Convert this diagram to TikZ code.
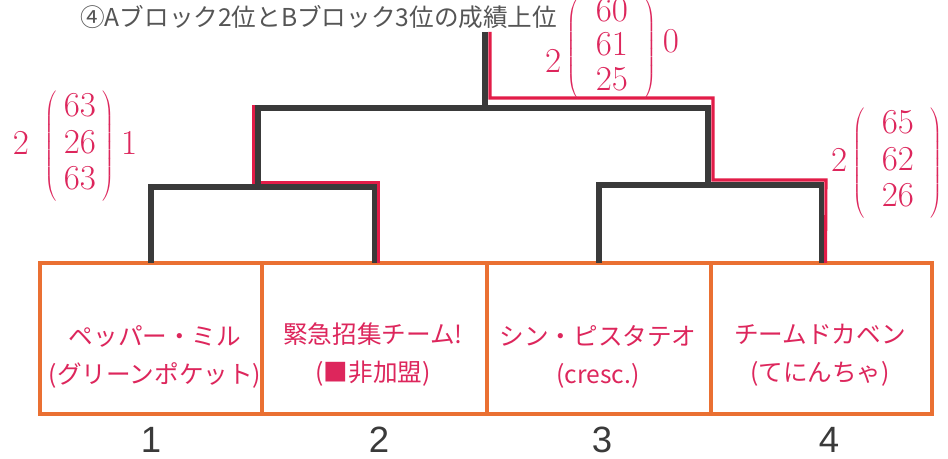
\documentclass[tikz,border=0pt]{standalone}
\usepackage{fontspec}
\newfontfamily\jpfont{Noto Sans CJK JP}
\newfontfamily\numfont{Liberation Sans}
\usetikzlibrary{positioning}
\definecolor{penred}{RGB}{221,38,92}
\definecolor{lineblack}{RGB}{58,58,58}
\definecolor{boxorange}{RGB}{234,112,50}
\definecolor{hilite}{RGB}{226,28,72}
\definecolor{titlegray}{RGB}{85,85,85}
\begin{document}
\begin{tikzpicture}[x=0.025cm,y=-0.025cm]
\tikzstyle{team node}=[rectangle,draw=boxorange,line width=2.8pt,minimum height=3.775cm,inner sep=0,outer sep=0]
\tikzstyle{name node}=[text=penred,font=\jpfont\fontsize{17.5}{27}\selectfont,align=center]
\tikzset{
	bracket/.style={draw=lineblack,line width=3.6pt},
	win path/.style={draw=hilite,line width=2.2pt},
	score node/.style={text=penred,font=\fontsize{24}{26}\selectfont,inner sep=0},
	seed node/.style={text=lineblack,font=\numfont\fontsize{26}{28}\selectfont,inner sep=0}
}
\useasboundingbox (0,0) rectangle (948,459);
\fill[white] (0,0) rectangle (948,459);

\node[anchor=west,text=titlegray,font=\jpfont\fontsize{17.5}{20}\selectfont,inner sep=0] (title) at (80,17) {④Aブロック2位とBブロック3位の成績上位};

\node[team node,minimum width=5.55cm] (t1) at (151,338.5) {};
\node[team node,minimum width=5.625cm] (t2) at (374.5,338.5) {};
\node[team node,minimum width=5.6cm] (t3) at (599,338.5) {};
\node[team node,minimum width=5.525cm] (t4) at (821.5,338.5) {};

\node[name node] (n1) at (155,357) {ペッパー・ミル\\(グリーンポケット)};
\node[name node] (n2) at (373,355) {緊急招集チーム!\\(■非加盟)};
\node[name node] (n3) at (598,357) {シン・ピスタテオ\\(cresc.)};
\node[name node] (n4) at (820,355) {チームドカベン\\(てにんちゃ)};

\node[seed node] (s1) at (151,440) {1};
\node[seed node] (s2) at (379,440) {2};
\node[seed node] (s3) at (602,440) {3};
\node[seed node] (s4) at (829,440) {4};

% junctions of the bracket
\coordinate (m1) at (258,187);
\coordinate (m2) at (708,185);
\coordinate (fin) at (485,108);
\coordinate (top) at (485,32);

% winners in red
\coordinate (r1) at (254,183);
\coordinate (r1top) at (254,105);
\coordinate (r0) at (490,32);
\coordinate (r2) at (713,98);
\coordinate (r3) at (826,180);
\draw[win path] ([xshift=0.1cm]t2.north) |- (r1) -- (r1top);
\draw[win path] (r0) |- (r2) |- (r3) -- ([xshift=0.1cm]t4.north);

\draw[bracket] (t1.north) |- (m1) -| (t2.north);
\draw[bracket] (t3.north) |- (m2) -| (t4.north);
\draw[bracket] (m1) |- (fin) -| (m2);
\draw[bracket] (fin) -- (top);

\node[score node] (sc1) at (75,146) {$2\;\left(\begin{array}{c}63\\26\\63\end{array}\right)1$};
\node[score node,font=\fontsize{24}{24.5}\selectfont] (sc0) at (612,49) {$\raisebox{-0.45em}{$2$}\left(\;\begin{array}{c}60\\61\\25\end{array}\;\right)\raisebox{0.15em}{$0$}$};
\node[score node] (sc2) at (898,163) {$2\left(\;\begin{array}{c}65\\62\\26\end{array}\;\right)1$};
\end{tikzpicture}
\end{document}
